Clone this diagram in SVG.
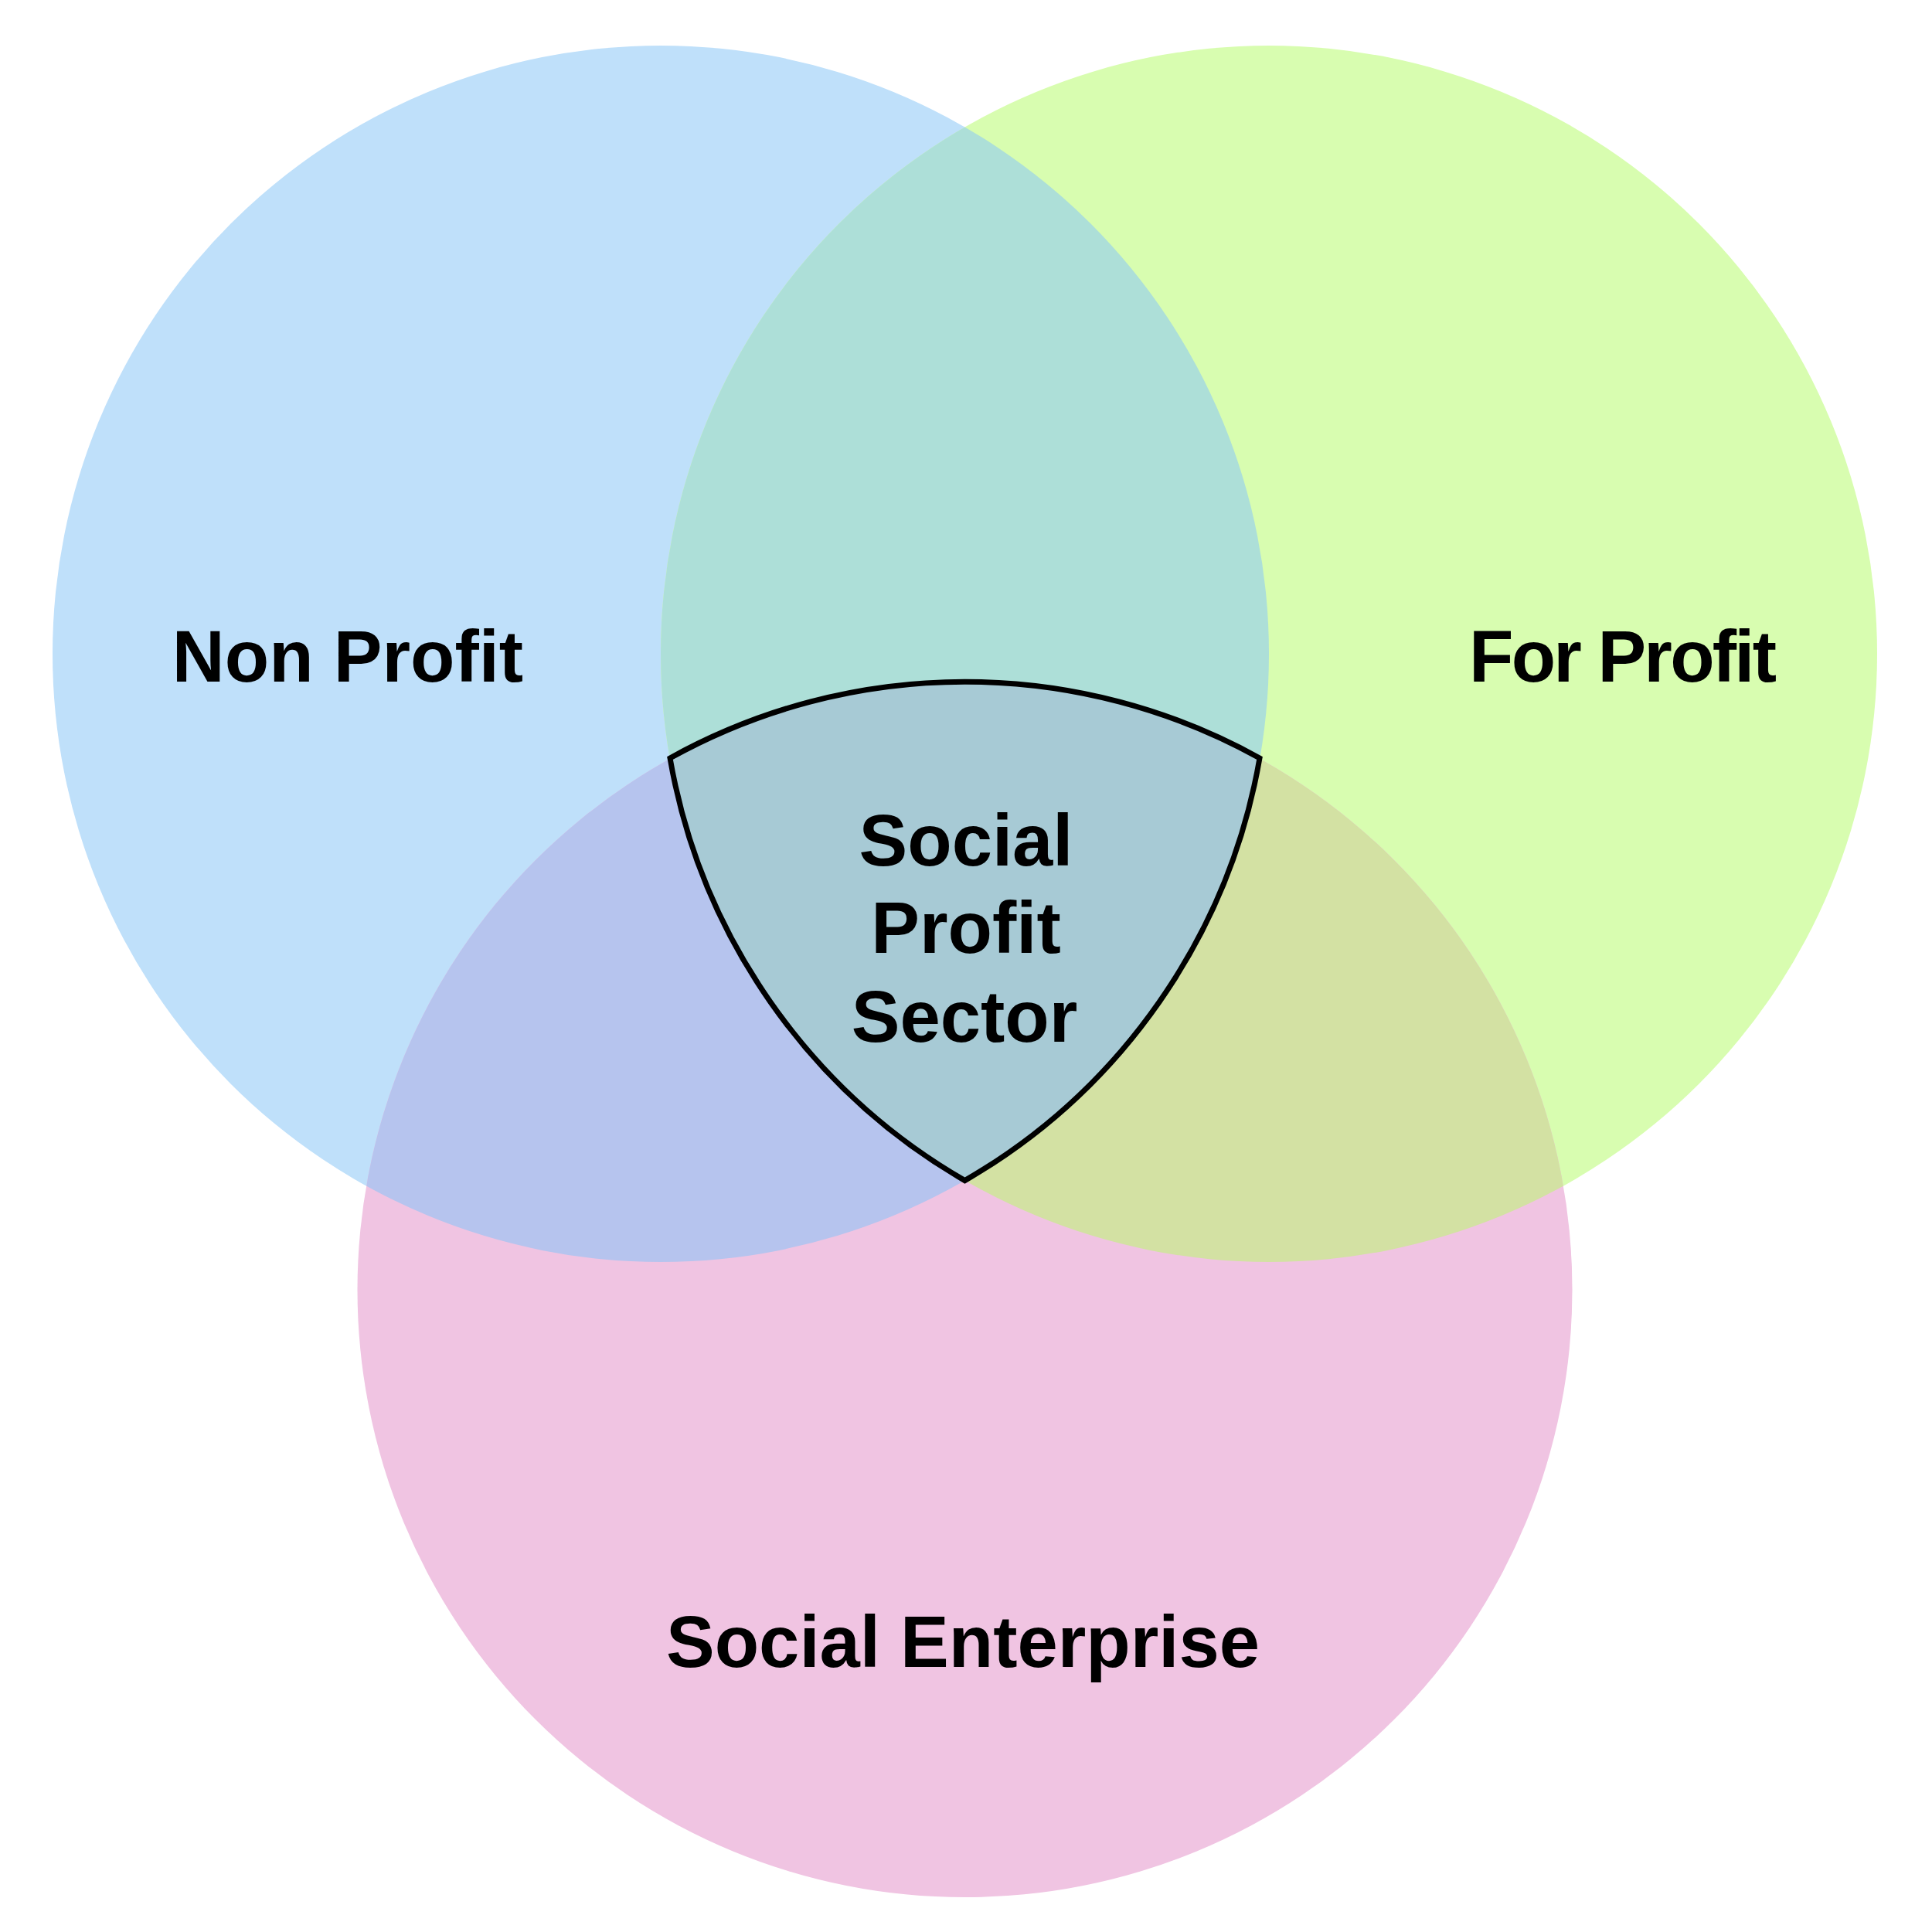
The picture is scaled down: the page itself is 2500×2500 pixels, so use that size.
<svg xmlns="http://www.w3.org/2000/svg" width="2500" height="2500" viewBox="0 0 2500 2500">
<style>
.lbl{font-family:"Liberation Sans",Arial,Helvetica,sans-serif;font-weight:bold;font-size:94px;fill:#000;text-anchor:middle}
</style>
<defs>
<clipPath id="cL"><circle cx="855" cy="846" r="787"/></clipPath>
<clipPath id="cR"><circle cx="1642" cy="846" r="787"/></clipPath>
<clipPath id="cB"><circle cx="1248.5" cy="1669" r="786"/></clipPath>
</defs>
<rect width="2500" height="2500" fill="#fff"/>
<g id="nonprofit"><circle cx="855" cy="846" r="787" fill="#BFE0FA"/></g>
<g id="forprofit"><circle cx="1642" cy="846" r="787" fill="#D8FDB0"/></g>
<g id="socialenterprise"><circle cx="1248.5" cy="1669" r="786" fill="#F0C4E2"/></g>
<g id="overlaps">
<circle cx="855" cy="846" r="787" fill="#ADDFD8" clip-path="url(#cR)"/>
<circle cx="855" cy="846" r="787" fill="#B6C4EE" clip-path="url(#cB)"/>
<circle cx="1642" cy="846" r="787" fill="#D3E1A3" clip-path="url(#cB)"/>
</g>
<g id="socialprofitsector">
<path d="M 867 981 A 786 786 0 0 1 1630 981 A 787 787 0 0 1 1248.5 1527.6 A 787 787 0 0 1 867 981 Z" fill="#A7CAD5" stroke="#000" stroke-width="7" stroke-linejoin="miter"/>
<text class="lbl" x="1250" y="1120">Social</text>
<text class="lbl" x="1250" y="1233">Profit</text>
<text class="lbl" x="1248" y="1348">Sector</text>
</g>
<g id="labels">
<text class="lbl" x="450" y="882">Non Profit</text>
<text class="lbl" x="2100" y="882" textLength="398" lengthAdjust="spacing">For Profit</text>
<text class="lbl" x="1246" y="2157">Social Enterprise</text>
</g>
<g id="connectors"/>
</svg>
